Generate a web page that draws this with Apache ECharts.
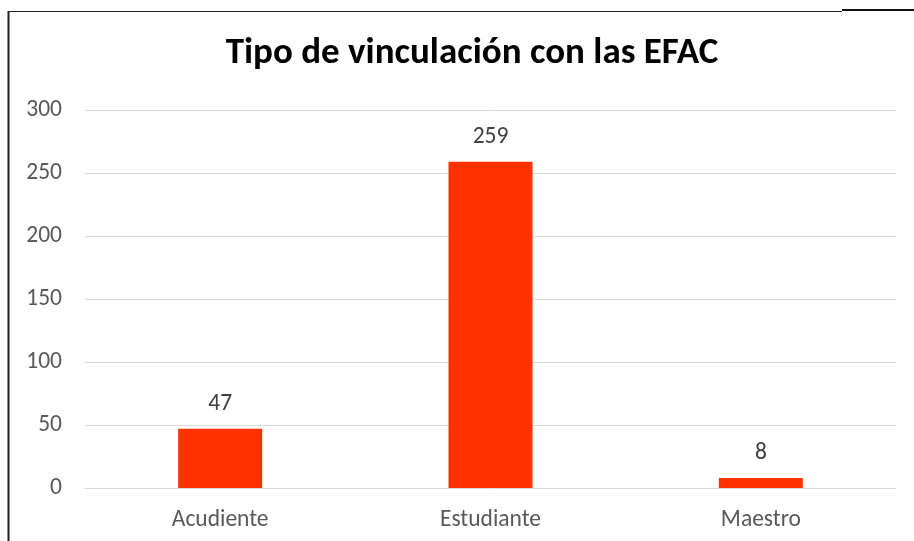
<!DOCTYPE html>
<html>
<head>
<meta charset="utf-8">
<script src="https://cdn.jsdelivr.net/npm/echarts@6/dist/echarts.min.js"></script>
<style>
html,body{margin:0;padding:0;background:#fff;}
#chart{width:914px;height:541px;}
</style>
</head>
<body>
<div id="chart"></div>
<script>
var categories = ['Acudiente', 'Estudiante', 'Maestro'];
var values = [47, 259, 8];
var yTicks = [0, 50, 100, 150, 200, 250, 300];
var titleText = 'Tipo de vinculación con las EFAC';

var chart = echarts.init(document.getElementById('chart'), null, {renderer: 'canvas'});
var font = 'Carlito, Calibri, "Noto Sans", sans-serif';
chart.setOption({
  animation: false,
  backgroundColor: '#ffffff',
  title: {
    text: titleText,
    left: 467, textAlign: 'center',
    top: 30,
    textStyle: {fontFamily: font, fontWeight: 'bold', fontSize: 37, color: '#000000'}
  },
  grid: {left: 85, right: 18, top: 110, bottom: 53, containLabel: false},
  xAxis: {
    type: 'category',
    data: categories,
    axisLine: {show: true, lineStyle: {color: '#d9d9d9', width: 1}},
    axisTick: {show: false},
    axisLabel: {fontFamily: font, fontSize: 23.5, color: '#595959', margin: 20}
  },
  yAxis: {
    type: 'value',
    min: yTicks[0], max: yTicks[yTicks.length - 1], interval: 50,
    axisLine: {show: false},
    axisTick: {show: false},
    splitLine: {lineStyle: {color: '#d9d9d9', width: 1}},
    axisLabel: {fontFamily: font, fontSize: 23.5, color: '#595959', margin: 23}
  },
  series: [{
    type: 'bar',
    data: values,
    barWidth: 84,
    itemStyle: {color: '#ff3300'},
    label: {show: true, position: 'top', distance: 13, fontFamily: font, fontSize: 23.5, color: '#404040'}
  }],
  graphic: [
    {type: 'line', shape: {x1: 8.5, y1: 11, x2: 8.5, y2: 541}, style: {stroke: '#222', lineWidth: 2}},
    {type: 'line', shape: {x1: 8, y1: 11.5, x2: 842, y2: 11.5}, style: {stroke: '#222', lineWidth: 1}},
    {type: 'line', shape: {x1: 842, y1: 10, x2: 914, y2: 10}, style: {stroke: '#111', lineWidth: 2}}
  ]
});
</script>
</body>
</html>
